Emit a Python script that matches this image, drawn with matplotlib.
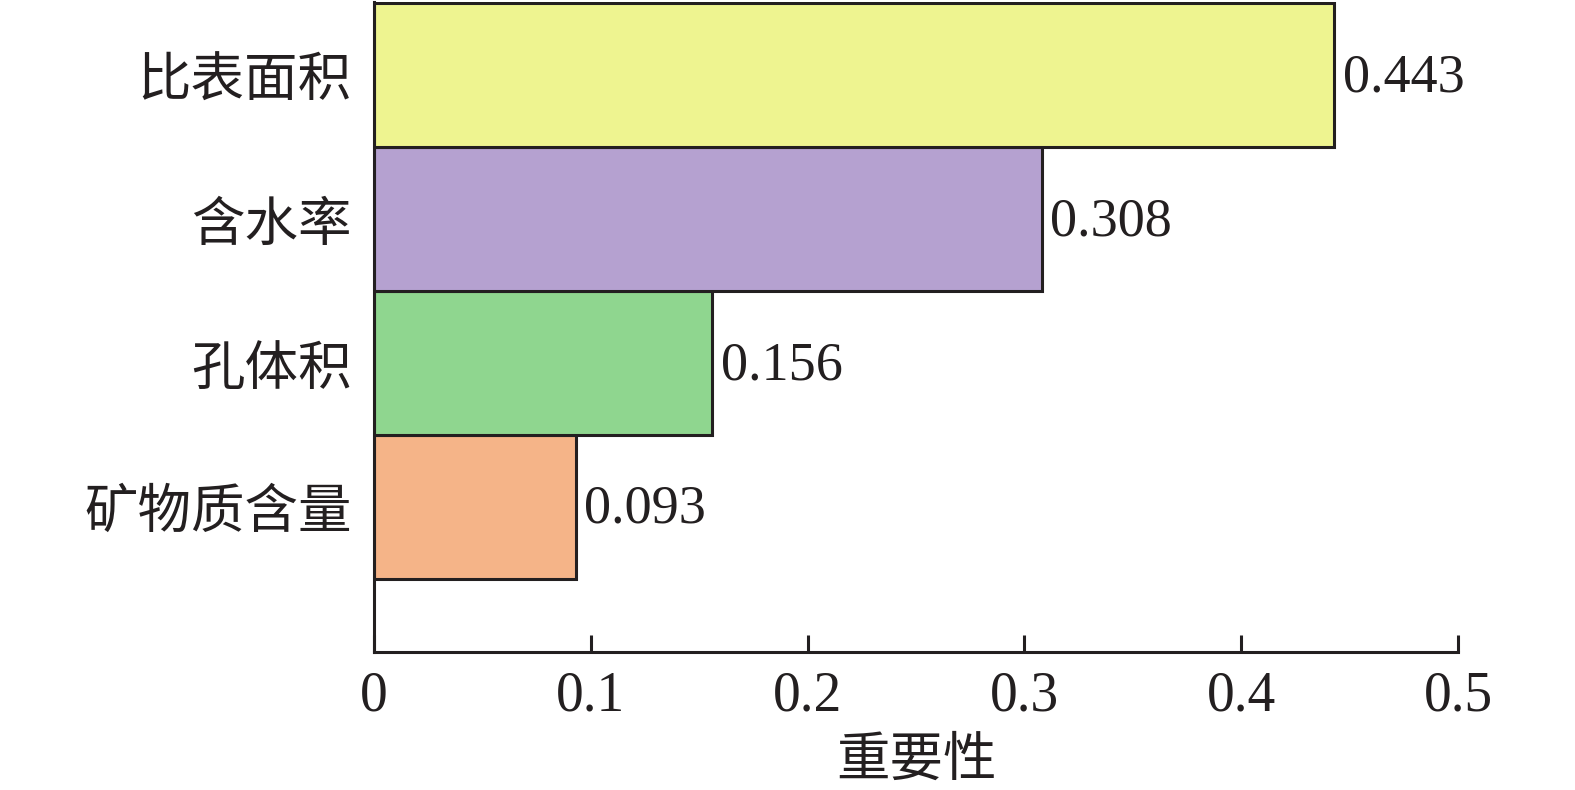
import matplotlib
matplotlib.use("Agg")
import matplotlib.pyplot as plt

categories = ["矿物质含量", "孔体积", "含水率", "比表面积"]
values = [0.093, 0.156, 0.308, 0.443]
colors = ["#F5B488", "#8FD68F", "#B5A1D0", "#EEF490"]
xticks = [0, 0.1, 0.2, 0.3, 0.4, 0.5]
xtick_labels = ["0", "0.1", "0.2", "0.3", "0.4", "0.5"]
xlabel = "重要性"

cjk = ["Noto Sans CJK SC", "DejaVu Sans"]
serif = ["Liberation Serif", "DejaVu Serif"]
edge = "#231F20"

fig = plt.figure(figsize=(15.75, 7.9), dpi=100)
ax = fig.add_axes([374/1575, 1-652/790, (1458-374)/1575, (652-2)/790])

ypos = list(range(len(categories)))
ax.barh(ypos, values, height=1.0, color=colors, edgecolor=edge, linewidth=2.2)
for y, v in zip(ypos, values):
    ax.text(v + 0.004, y - 0.02, f"{v:.3f}", va="center", ha="left",
            fontsize=39, family=serif, color=edge)

ax.set_xlim(0, 0.5)
ax.set_ylim(-1.01, 3.51)
ax.set_xticks(xticks)
ax.set_xticklabels(xtick_labels, family=serif, fontsize=40, color=edge)
ax.set_yticks(ypos)
ax.set_yticklabels(categories, family=cjk, fontsize=38.5, color=edge)
ax.tick_params(axis="x", direction="in", length=12, width=2.2, pad=13, color=edge)
ax.tick_params(axis="y", length=0, pad=16)
for s in ["top", "right"]:
    ax.spines[s].set_visible(False)
for s in ["left", "bottom"]:
    ax.spines[s].set_linewidth(2.2)
    ax.spines[s].set_color(edge)
ax.set_xlabel(xlabel, family=cjk, fontsize=38.5, color=edge, labelpad=8)

fig.savefig("out.png", dpi=100)
